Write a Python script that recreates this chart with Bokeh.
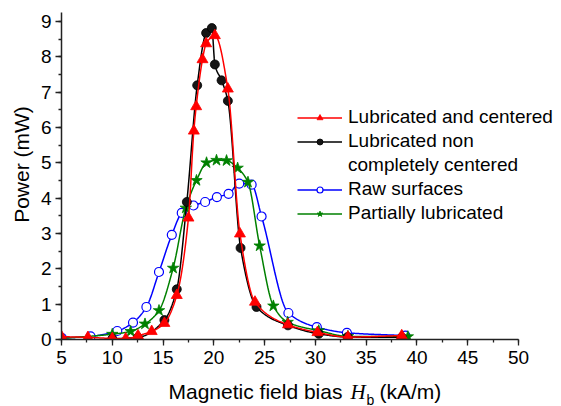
import numpy as np
from bokeh.plotting import figure
from bokeh.layouts import row, column
from bokeh.models import Range1d, SingleIntervalTicker, Legend, LegendItem
from bokeh.core.properties import value
from bokeh.embed import file_html
from bokeh.resources import INLINE

# ---- data ----
red_x = [5.0, 7.6, 10.0, 11.32, 12.53, 13.88, 15.13, 16.35, 17.5, 18.03, 18.26, 18.88, 19.24, 20.1, 21.38, 22.57, 24.05, 27.3, 30.2, 33.2, 38.5]
red_y = [0.08, 0.06, 0.03, 0.02, 0.11, 0.23, 0.46, 1.25, 3.44, 5.9, 6.59, 7.92, 8.37, 8.6, 7.09, 2.99, 1.06, 0.42, 0.2, 0.07, 0.11]

black_x = [10.0, 12.53, 15.13, 16.35, 17.34, 18.36, 19.24, 19.80, 20.1, 20.76, 21.38, 22.63, 24.2, 27.3, 30.33, 33.17, 38.5]
black_y = [0.02, 0.06, 0.55, 1.42, 3.89, 7.19, 8.67, 8.81, 7.78, 7.33, 6.75, 2.59, 0.92, 0.40, 0.16, 0.07, 0.06]

blue_x = [5.05, 7.86, 10.49, 12.04, 13.36, 14.6, 15.86, 16.84, 18.0, 19.14, 20.3, 21.45, 22.5, 23.72, 24.7, 27.34, 30.14, 33.1, 38.86]
blue_y = [0.04, 0.09, 0.24, 0.48, 0.92, 1.91, 2.96, 3.58, 3.79, 3.89, 4.03, 4.12, 4.41, 4.38, 3.48, 0.75, 0.35, 0.19, 0.11]

green_x = [5.0, 10.0, 11.81, 13.22, 14.6, 15.99, 17.24, 18.29, 19.28, 20.26, 21.25, 22.34, 23.36, 24.51, 25.86, 27.27, 30.33, 33.2, 39.1]
green_y = [0.03, 0.15, 0.23, 0.44, 0.82, 2.02, 3.72, 4.5, 5.0, 5.07, 5.06, 4.85, 4.45, 2.65, 0.95, 0.49, 0.25, 0.09, 0.08]

series_labels = ["Lubricated and centered", "Lubricated non", "completely centered",
                 "Raw surfaces", "Partially lubricated"]
x_label_parts = ["Magnetic field bias", "H", "b", "(kA/m)"]
y_label = "Power (mW)"


def smooth(x, y, n=600):
    """Monotone cubic (Fritsch-Carlson) curve through the read points."""
    x = np.asarray(x, float)
    y = np.asarray(y, float)
    h = np.diff(x)
    d = np.diff(y) / h
    m = np.zeros_like(y)
    m[0], m[-1] = d[0], d[-1]
    for k in range(1, len(x) - 1):
        if d[k - 1] * d[k] <= 0:
            m[k] = 0.0
        else:
            w1 = 2 * h[k] + h[k - 1]
            w2 = h[k] + 2 * h[k - 1]
            m[k] = (w1 + w2) / (w1 / d[k - 1] + w2 / d[k])
    xs = np.linspace(x[0], x[-1], n)
    i = np.clip(np.searchsorted(x, xs, side="right") - 1, 0, len(x) - 2)
    t = (xs - x[i]) / h[i]
    h00 = 2 * t**3 - 3 * t**2 + 1
    h10 = t**3 - 2 * t**2 + t
    h01 = -2 * t**3 + 3 * t**2
    h11 = t**3 - t**2
    ys = h00 * y[i] + h10 * h[i] * m[i] + h01 * y[i + 1] + h11 * h[i] * m[i + 1]
    return xs, ys


FONT = "Liberation Sans"
W, H = 561, 406
YLAB_W = 36
XLAB_H = 30
FRAME_LEFT = 61   # page x of the main frame's left edge (36 + min_border_left)


def blank(width, height, xr, yr):
    f = figure(width=width, height=height, output_backend="svg", toolbar_location=None,
               x_range=xr, y_range=yr, x_axis_location=None, y_axis_location=None,
               min_border=0, min_border_left=0, min_border_right=0,
               min_border_top=0, min_border_bottom=0)
    f.grid.visible = False
    f.outline_line_color = None
    return f


# ---- main plot ----
p = figure(width=W - YLAB_W, height=H - XLAB_H, output_backend="svg", toolbar_location=None,
           x_range=Range1d(5, 54.23), y_range=Range1d(0, 9.25),
           min_border_left=FRAME_LEFT - YLAB_W, min_border_right=0,
           min_border_top=12, min_border_bottom=37)
p.outline_line_color = None
p.grid.visible = False

p.xaxis.ticker = SingleIntervalTicker(interval=5, num_minor_ticks=2)
p.yaxis.ticker = SingleIntervalTicker(interval=1, num_minor_ticks=2)
p.xaxis.bounds = (5, 50)
for ax in (p.xaxis, p.yaxis):
    ax.axis_line_width = 1.5
    ax.axis_line_color = "#222222"
    ax.major_tick_line_color = "#222222"
    ax.minor_tick_line_color = "#222222"
    ax.major_tick_line_width = 1.3
    ax.minor_tick_line_width = 1.3
    ax.major_tick_out = 6
    ax.major_tick_in = 0
    ax.minor_tick_out = 3
    ax.minor_tick_in = 0
    ax.major_label_text_font = FONT
    ax.major_label_text_font_size = "19px"
    ax.major_label_text_color = "black"
p.xaxis.major_label_standoff = 5
p.yaxis.major_label_standoff = 4

RED, BLACK, BLUE, GREEN = "#ff0000", "#000000", "#0000ff", "#008000"

bx, by = smooth(blue_x, blue_y)
bl = p.line(bx, by, line_color=BLUE, line_width=1.5)
bs = p.scatter(blue_x, blue_y, marker="circle", size=9, fill_color="white",
               line_color=BLUE, line_width=1.2)
gx, gy = smooth(green_x, green_y)
gl = p.line(gx, gy, line_color=GREEN, line_width=1.5)
gs = p.scatter(green_x, green_y, marker="star", size=12, fill_color=GREEN,
               line_color=GREEN, line_width=0.8)
kx, ky = smooth(black_x, black_y)
kl = p.line(kx, ky, line_color=BLACK, line_width=1.5)
ks = p.scatter(black_x, black_y, marker="circle", size=9, fill_color="#151515",
               line_color="#000000", line_width=0.8)
rx, ry = smooth(red_x, red_y)
rl = p.line(rx, ry, line_color=RED, line_width=1.5)
rs = p.scatter(red_x, red_y, marker="triangle", size=11, fill_color=RED,
               line_color=RED, line_width=0.8)

dummy = p.line([], [], line_alpha=0)

legend = Legend(items=[
    LegendItem(label=series_labels[0], renderers=[rl, rs]),
    LegendItem(label=series_labels[1], renderers=[kl, ks]),
    LegendItem(label=series_labels[2], renderers=[dummy]),
    LegendItem(label=series_labels[3], renderers=[bl, bs]),
    LegendItem(label=series_labels[4], renderers=[gl, gs]),
], location=(236, 114))
legend.glyph_width = 45
legend.glyph_height = 15
legend.label_height = 24
legend.label_standoff = 6
legend.spacing = 0
legend.padding = 0
legend.margin = 0
legend.border_line_alpha = 0
legend.background_fill_alpha = 0
legend.label_text_font = FONT
legend.label_text_font_size = "19px"
legend.label_text_color = "black"
p.add_layout(legend, "center")

# ---- y axis title (own small canvas; coordinates = page pixels, y up from bottom) ----
yfig = blank(YLAB_W, H, Range1d(0, YLAB_W), Range1d(0, H))
yfig.text(x=[21], y=[H - 164], text=[y_label], angle=np.pi / 2,
          text_align="center", text_baseline="middle",
          text_font=value(FONT), text_font_size="21px", text_color="black")

# ---- x axis title (own small canvas; its frame is aligned with the main frame,
#      so the range is expressed in page pixels from FRAME_LEFT to W; y down) ----
xfig = blank(W - YLAB_W, XLAB_H, Range1d(FRAME_LEFT, W), Range1d(H, H - XLAB_H))
xfig.text(x=[168], y=[391], text=[x_label_parts[0]], text_align="left",
          text_baseline="middle", text_font=value(FONT), text_font_size="21px",
          text_color="black")
xfig.text(x=[350], y=[391], text=[x_label_parts[1]], text_align="left",
          text_baseline="middle", text_font=value("Liberation Serif"),
          text_font_style="italic", text_font_size="21px", text_color="black")
xfig.text(x=[366], y=[399], text=[x_label_parts[2]], text_align="left",
          text_baseline="middle", text_font=value(FONT), text_font_size="14px",
          text_color="black")
xfig.text(x=[379], y=[391], text=[x_label_parts[3]], text_align="left",
          text_baseline="middle", text_font=value(FONT), text_font_size="21px",
          text_color="black")

layout = row(yfig, column(p, xfig))
open("out.html", "w").write(file_html(layout, INLINE))
